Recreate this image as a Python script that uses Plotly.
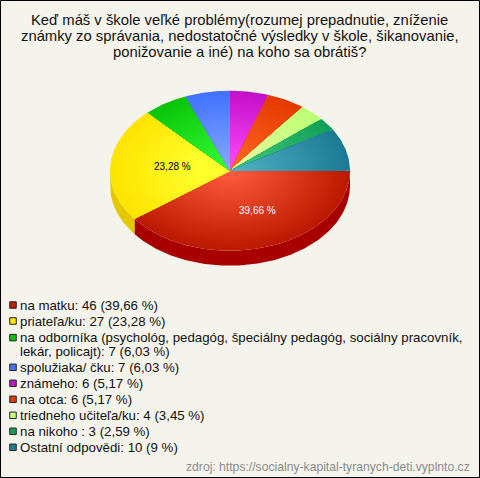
import math
import plotly.graph_objects as go

title_lines = [
    "Keď máš v škole veľké problémy(rozumej prepadnutie, zníženie",
    "známky zo správania, nedostatočné výsledky v škole, šikanovanie,",
    "ponižovanie a iné) na koho sa obrátiš?",
]
categories = ["na matku", "priateľa/ku", "na odborníka", "spolužiaka/ čku", "známeho",
              "na otca", "triedneho učiteľa/ku", "na nikoho", "Ostatní odpovědi"]
values = [46, 27, 7, 7, 6, 6, 4, 3, 10]
legend_lines = [
    "na matku: 46 (39,66 %)",
    "priateľa/ku: 27 (23,28 %)",
    "na odborníka (psychológ, pedagóg, špeciálny pedagóg, sociálny pracovník,",
    "lekár, policajt): 7 (6,03 %)",
    "spolužiaka/ čku: 7 (6,03 %)",
    "známeho: 6 (5,17 %)",
    "na otca: 6 (5,17 %)",
    "triedneho učiteľa/ku: 4 (3,45 %)",
    "na nikoho : 3 (2,59 %)",
    "Ostatní odpovědi: 10 (9 %)",
]
legend_y = [305, 321, 337.6, 351.3, 367.3, 383.3, 399.3, 415.3, 431.3, 447.3]
legend_key_line = [0, 1, 2, 4, 5, 6, 7, 8, 9]
rim_colors = ["#BC1A00", "#FFE400", "#0AC40A", "#4272FF", "#C410C8", "#E43A00", "#BCFF74", "#12A058", "#1C7A94"]
center_colors = ["#FF5C3E", "#FFFF2C", "#36FF36", "#88AAFF", "#FF4CFF", "#FF6A26", "#E8FFA4", "#40CC7C", "#54B2C6"]
key_colors = ["#C41C00", "#FFE800", "#0CC40C", "#4672FF", "#C414C8", "#E63C00", "#C4FF78", "#14A05A", "#1E7D96"]
side_colors = {"priateľa/ku": "#E3C800", "na matku": "#A80000"}
source = "zdroj: https://socialny-kapital-tyranych-deti.vyplnto.cz"

BG = "#F5F4EC"
CX, CY, RX, RY, DEPTH = 230, 170.7, 120, 80, 15
RINGS = 32


def rgb(h):
    return [int(h[i:i + 2], 16) for i in (1, 3, 5)]


def mix(a, b, t):
    a, b = rgb(a), rgb(b)
    return "rgb(%d,%d,%d)" % tuple(round(a[i] + (b[i] - a[i]) * t) for i in range(3))


def arc(a0, a1, scale=1.0, dy=0.0):
    n = max(2, int(abs(a1 - a0) * 1.5))
    xs, ys = [], []
    for i in range(n + 1):
        a = math.radians(a0 + (a1 - a0) * i / n)
        xs.append(CX + RX * scale * math.cos(a))
        ys.append(CY + dy + RY * scale * math.sin(a))
    return xs, ys


fig = go.Figure()
total = sum(values)
angles = [0.0]
for v in values:
    angles.append(angles[-1] + 360.0 * v / total)

# rim of the pie, visible on the front half only
for i, name in enumerate(categories):
    if name in side_colors:
        a0, a1 = angles[i], min(angles[i + 1], 180.0)
        tx, ty = arc(a0, a1)
        bx, by = arc(a1, a0, dy=DEPTH)
        fig.add_trace(go.Scatter(x=tx + bx + tx[:1], y=ty + by + ty[:1], mode="lines", fill="toself",
                                 fillcolor=side_colors[name], line=dict(width=0), hoverinfo="skip",
                                 showlegend=False))

# top face: every slice is painted as nested sectors, rim colour to centre colour
for i, name in enumerate(categories):
    a0, a1 = angles[i], angles[i + 1]
    for r in range(RINGS):
        t = r / (RINGS - 1)
        scale = 1.0 - t * 0.97
        ax, ay = arc(a0, a1, scale=scale)
        shade = min(1.0, t * 1.35) if name == "priateľa/ku" else t
        fig.add_trace(go.Scatter(x=[CX] + ax + [CX], y=[CY] + ay + [CY], mode="lines", fill="toself",
                                 fillcolor=mix(rim_colors[i], center_colors[i], shade),
                                 line=dict(width=0), name=name, hoverinfo="skip", showlegend=False))

# legend keys
fig.add_trace(go.Scatter(x=[13] * len(legend_key_line), y=[legend_y[k] for k in legend_key_line],
                         mode="markers", hoverinfo="skip", showlegend=False,
                         marker=dict(symbol="square", size=6.5, color=key_colors,
                                     line=dict(color="#222222", width=1))))

ann = []
for line, y in zip(title_lines, [20, 36, 52]):
    ann.append(dict(x=239.5, y=y, text=line, xanchor="center", yanchor="middle", showarrow=False,
                    font=dict(family="Liberation Sans", size=14.8, color="#111111")))
for line, y in zip(legend_lines, legend_y):
    ann.append(dict(x=17.5, y=y, text=line, xanchor="left", yanchor="middle", showarrow=False,
                    font=dict(family="Liberation Sans", size=13.27, color="#111111")))
ann.append(dict(x=172, y=166, text="23,28 %", xanchor="center", yanchor="middle", showarrow=False,
                font=dict(family="Liberation Sans", size=10, color="#000000")))
ann.append(dict(x=257.5, y=210, text="39,66 %", xanchor="center", yanchor="middle", showarrow=False,
                font=dict(family="Liberation Sans", size=10, color="#FFFFFF")))
ann.append(dict(x=471.5, y=467, text=source, xanchor="right", yanchor="middle", showarrow=False,
                font=dict(family="Liberation Sans", size=12.17, color="#8C8C8C")))

fig.update_layout(
    width=480, height=478, margin=dict(l=0, r=0, t=0, b=0),
    paper_bgcolor=BG, plot_bgcolor=BG, showlegend=False, annotations=ann,
    xaxis=dict(range=[0, 480], visible=False, fixedrange=True),
    yaxis=dict(range=[478, 0], visible=False, fixedrange=True),
    shapes=[dict(type="rect", xref="x", yref="y", x0=0.5, y0=0.5, x1=479.5, y1=477.5,
                 line=dict(color="#000000", width=1))],
)
fig.write_html("out.html", config={"displayModeBar": False},
               post_script="document.body.style.margin='0';document.documentElement.style.overflow='hidden';")
